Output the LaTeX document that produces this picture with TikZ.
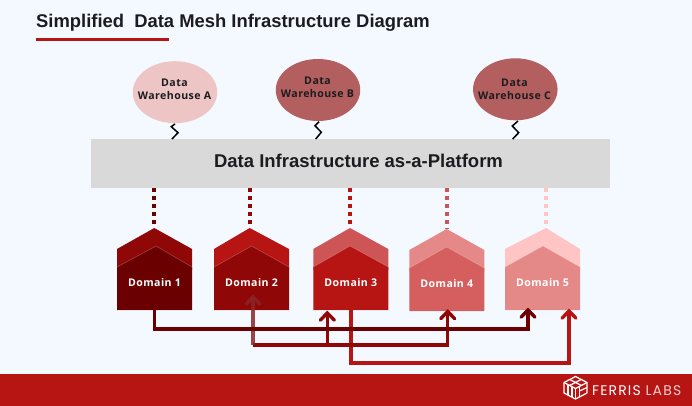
\documentclass[tikz,border=0pt]{standalone}
\usepackage{fontspec}
\setmainfont{Liberation Sans}
\newfontfamily\opn{Open Sans}[LetterSpace=4.0]
\newfontfamily\logofont{Poppins}[LetterSpace=8.0]
\usetikzlibrary{calc,arrows.meta,shapes.geometric}
\definecolor{bgc}{HTML}{F4F9FF}
\definecolor{cA}{HTML}{6B0000}
\definecolor{cB}{HTML}{8F0707}
\definecolor{cC}{HTML}{B71414}
\definecolor{cD}{HTML}{CD5555}
\definecolor{cE}{HTML}{E58888}
\definecolor{cF}{HTML}{FFC4C4}
\definecolor{cG}{HTML}{D55E5E}
\definecolor{whA}{HTML}{EEC5C5}
\definecolor{whB}{HTML}{B35F5F}
\definecolor{ink}{HTML}{1C1C20}
\tikzset{
  x=1pt,y=-1pt,
  wh/.style={ellipse,inner sep=0pt,minimum width=84.5pt,minimum height=62pt,fill=#1},
  whtext/.style={inner sep=0pt,align=center,font=\opn\bfseries\fontsize{10.6}{13}\selectfont,text=ink},
  body/.style={rectangle,inner sep=0pt,minimum width=75pt,minimum height=43pt},
  squig/.style={draw=black,line width=1.5pt,line join=miter},
  dots/.style={draw=#1,line width=4pt,dash pattern=on 4pt off 4pt},
  link/.style={draw=#1,line width=3.4pt,line cap=butt,line join=miter},
  head/.style={draw=#1,line width=3.4pt,line cap=round,line join=miter},
}
\begin{document}
\begin{tikzpicture}
\useasboundingbox (0,0) rectangle (692,406);
\fill[bgc] (0,0) rectangle (692,406);
% title
\node[anchor=base west,inner sep=0pt,text=ink,font=\bfseries\fontsize{18.4}{20}\selectfont] (title) at (36,28) {Simplified\ \ Data Mesh Infrastructure Diagram};
\fill[cC] (36,37.7) rectangle (169,40.6);
% platform
\node[rectangle,inner sep=0pt,minimum width=519pt,minimum height=49pt,fill=black!15] (infra) at (350.7,163.5) {};
\node[inner sep=0pt,text=ink,font=\bfseries\fontsize{18.5}{20}\selectfont] (infratext) at (358.5,161.3) {Data Infrastructure as-a-Platform};
% warehouses
\node[wh=whA] (wa) at (175,92.2) {};
\node[wh=whB] (wb) at (318,90) {};
\node[wh=whB] (wc) at (515.3,89.3) {};
\node[whtext] (wat) at (174.5,89.5) {Data\\Warehouse A};
\node[whtext] (wbt) at (317.5,87.3) {Data\\Warehouse B};
\node[whtext] (wct) at (514.5,89.5) {Data\\Warehouse C};
% domains
\newcommand{\domain}[9]{%
 \fill[#3] (#2,249+#7) -- (#5,228+#7) -- (#2+75,249+#7) -- (#2+75,270+#7) -- (#2,270+#7) -- cycle;
 \fill[#4] (#2,267+#7) -- (#6,246+#7) -- (#2+75,267+#7) -- (#2+75,310+#7) -- (#2,310+#7) -- cycle;
 \draw[white,opacity=.25,line width=.6pt] (#2,267+#7) -- (#6,246+#7) -- (#2+75,267+#7);
 \draw[white,opacity=.3,line width=.7pt] (#2,310+#7) -- (#2+75,310+#7);
 \node[body] (#1) at (#2+37.5,288.5+#7) {};
 \node[font=\opn\bfseries\fontsize{10.6}{13}\selectfont,text=white,inner sep=0pt] (#1t) at (#2+37.5,283+#7) {#8};
 \coordinate (#1a) at (#5,228+#7);
 \draw[dots=#9] (infra.south -| #1a) -- (#1a);
}
\domain{dA}{117}{cB}{cA}{154.3}{156}{0}{Domain 1}{cA}
\domain{dB}{214}{cC}{cB}{249.7}{251.6}{0}{Domain 2}{cB}
\domain{dC}{313.3}{cD}{cC}{350}{350}{0}{\raisebox{1.6pt}{Domain 3}}{cC}
\domain{dD}{409.3}{cE}{cG}{446.7}{446.7}{1}{Domain 4}{cD}
\domain{dE}{505}{cF}{cE}{546}{543}{0}{Domain 5}{cF}
% squiggles
\coordinate (ib1) at (172,139);
\coordinate (ib2) at (315.7,139);
\coordinate (ib3) at (512.7,139);
\draw[squig] (wa.south) ++(0,0.5) -- (171.3,126.7) -- (178,132.7) -- (ib1);
\draw[squig] (wb.south) ++(1,0.5) -- (315,125.7) -- (321.3,132.3) -- (ib2);
\draw[squig] (wc.south) ++(2.7,0.5) -- (512.3,126) -- (518.7,132.7) -- (ib3);
% connectors
\coordinate (m1) at (154.5,329);
\coordinate (m2) at (253,345);
\coordinate (m3) at (351,363);
\coordinate (a2) at (253,297);
\coordinate (a3) at (327.3,313);
\coordinate (a4) at (447.7,311.5);
\coordinate (a5) at (528,310);
\coordinate (a6) at (569,311);
\newcommand{\chev}[2]{\draw[head=#1] ($(#2)+(-7,7.2)$) -- (#2) -- ($(#2)+(7,7.2)$);}
\draw[link=cC] (dC.south -| m3) -- (m3) -| (a6);
\chev{cC}{a6}
\draw[link=cB] (a4) |- (m2 -| a3) -- (a3);
\draw[link=cB] (a4 |- m2) -- (m2);
\begin{scope}[opacity=.85]
\draw[link=cB!75!gray] (m2) -- (a2);
\chev{cB!75!gray}{a2}
\end{scope}
\chev{cB}{a3}
\chev{cB}{a4}
\draw[link=cA] (dA.south -| m1) -- (m1) -| (a5);
\chev{cA}{a5}
% footer
\fill[cC] (0,374) rectangle (692,406);
\draw[white,opacity=.3,line width=.6pt] (552,373.5) -- (692,373.5);
% logo
\begin{scope}[white,line width=1.25pt,line join=round]
\draw (575.5,376.5) -- (587,382.5) -- (587,393) -- (575.5,399) -- (564,393) -- (564,382.5) -- cycle;
\draw (564,382.5) -- (575.5,388.5) -- (587,382.5);
\draw (575.5,388.5) -- (575.5,399);
\draw (570,379.6) -- (581.5,385.5);
\draw (581,379.6) -- (569.5,385.5);
\draw (568,385) -- (568,395);
\draw (572,387) -- (572,397);
\draw (579.5,387) -- (579.5,397);
\draw (579.5,391) -- (587,387.5);
\end{scope}
\node[anchor=base west,inner sep=0pt,text=white,font=\logofont\fontsize{14}{16}\selectfont] (logo) at (592,395) {FERRIS \textcolor{white!80!cC}{LABS}};
\end{tikzpicture}
\end{document}
